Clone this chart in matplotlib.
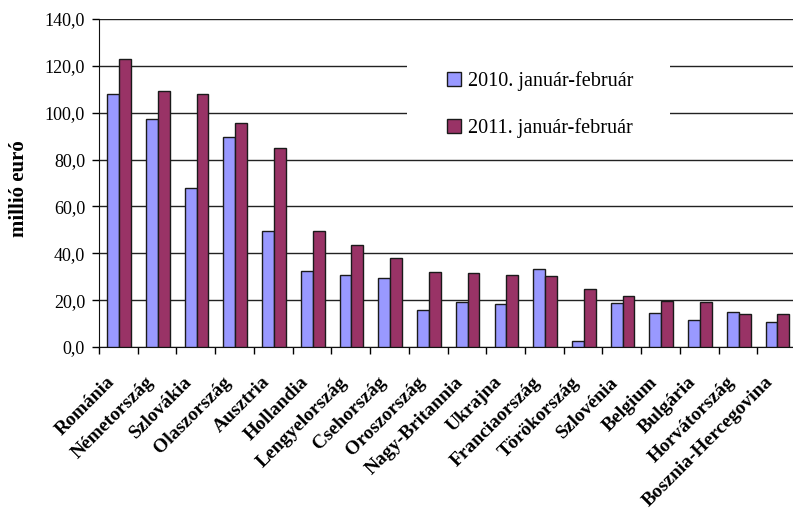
import matplotlib
matplotlib.use("Agg")
import matplotlib.pyplot as plt
import matplotlib.transforms as mtransforms
from matplotlib.patches import Rectangle
import numpy as np

categories = ["Románia", "Németország", "Szlovákia", "Olaszország", "Ausztria",
              "Hollandia", "Lengyelország", "Csehország", "Oroszország",
              "Nagy-Britannia", "Ukrajna", "Franciaország", "Törökország",
              "Szlovénia", "Belgium", "Bulgária", "Horvátország",
              "Bosznia-Hercegovina"]
values_2010 = [108.0, 97.4, 67.7, 89.8, 49.3, 32.6, 30.6, 29.6, 15.9, 19.2,
               18.2, 33.3, 2.7, 18.6, 14.6, 11.5, 15.1, 10.5]
values_2011 = [122.8, 109.3, 108.1, 95.7, 85.1, 49.4, 43.5, 37.9, 32.1, 31.6,
               30.6, 30.2, 24.9, 21.9, 19.5, 19.2, 14.1, 14.1]
series_labels = ["2010. január-február", "2011. január-február"]
y_ticks = [0, 20, 40, 60, 80, 100, 120, 140]

plt.rcParams['font.family'] = ['Liberation Serif', 'DejaVu Serif']

W, H = 793, 515
fig = plt.figure(figsize=(W / 100, H / 100), dpi=100)
left, right, top, bottom = 99, 796, 19, 347
aw, ah = right - left, bottom - top
ax = fig.add_axes([left / W, 1 - bottom / H, aw / W, ah / H])

x = np.arange(len(categories))
bw = 0.305
ax.bar(x - bw / 2 + 0.02, values_2010, bw, color="#9999FF", edgecolor="#1a1a1a",
       linewidth=1.0, label=series_labels[0], zorder=3)
ax.bar(x + bw / 2 + 0.02, values_2011, bw, color="#993366", edgecolor="#1a1a1a",
       linewidth=1.0, label=series_labels[1], zorder=3)

ax.set_xlim(-0.5, len(categories) - 0.5)
ax.set_ylim(0, 140)
ax.set_yticks(y_ticks)
ax.set_yticklabels([f"{v:.1f}".replace(".", ",") for v in y_ticks], fontsize=13)
ax.yaxis.grid(True, color="#222222", linewidth=1.0, zorder=0)
ax.set_axisbelow(True)

ax.set_xticks(np.arange(len(categories) + 1) - 0.5, minor=False)
ax.set_xticklabels([])
ax.set_xticks(x, minor=True)
ax.set_xticklabels(categories, minor=True, rotation=45, ha="right",
                   rotation_mode="anchor", fontsize=14, fontweight="bold")
ax.tick_params(axis="x", which="minor", length=0, pad=19)
ax.tick_params(axis="x", which="major", length=5, direction="out", width=1)
ax.tick_params(axis="y", length=5, direction="out", width=1, pad=5)
shift = mtransforms.ScaledTranslation(-12 / 100, 0, fig.dpi_scale_trans)
for lab in ax.get_xticklabels(minor=True):
    lab.set_transform(lab.get_transform() + shift)

for s in ["top", "right"]:
    ax.spines[s].set_visible(False)
ax.spines["left"].set_color("#111111")
ax.spines["bottom"].set_color("#111111")

ax.set_ylabel("millió euró", fontsize=15, fontweight="bold")
ax.yaxis.set_label_coords((29 - left) / aw, 1 - (189 - top) / ah)

# white legend area
ax.add_patch(Rectangle(((407 - left) / aw, 1 - (150 - top) / ah), 263 / aw, 102 / ah,
                       transform=ax.transAxes, facecolor="white", edgecolor="none",
                       zorder=2))
leg = ax.legend(loc="upper left",
                bbox_to_anchor=((447 - left) / aw, 1 - (71 - top) / ah),
                frameon=False, fontsize=14.5, handlelength=0.7, handleheight=0.7,
                labelspacing=1.35, borderpad=0, handletextpad=0.35, borderaxespad=0)
leg.set_zorder(5)
for p in leg.get_patches():
    p.set_linewidth(1.0)

fig.savefig("out.png", dpi=100)
